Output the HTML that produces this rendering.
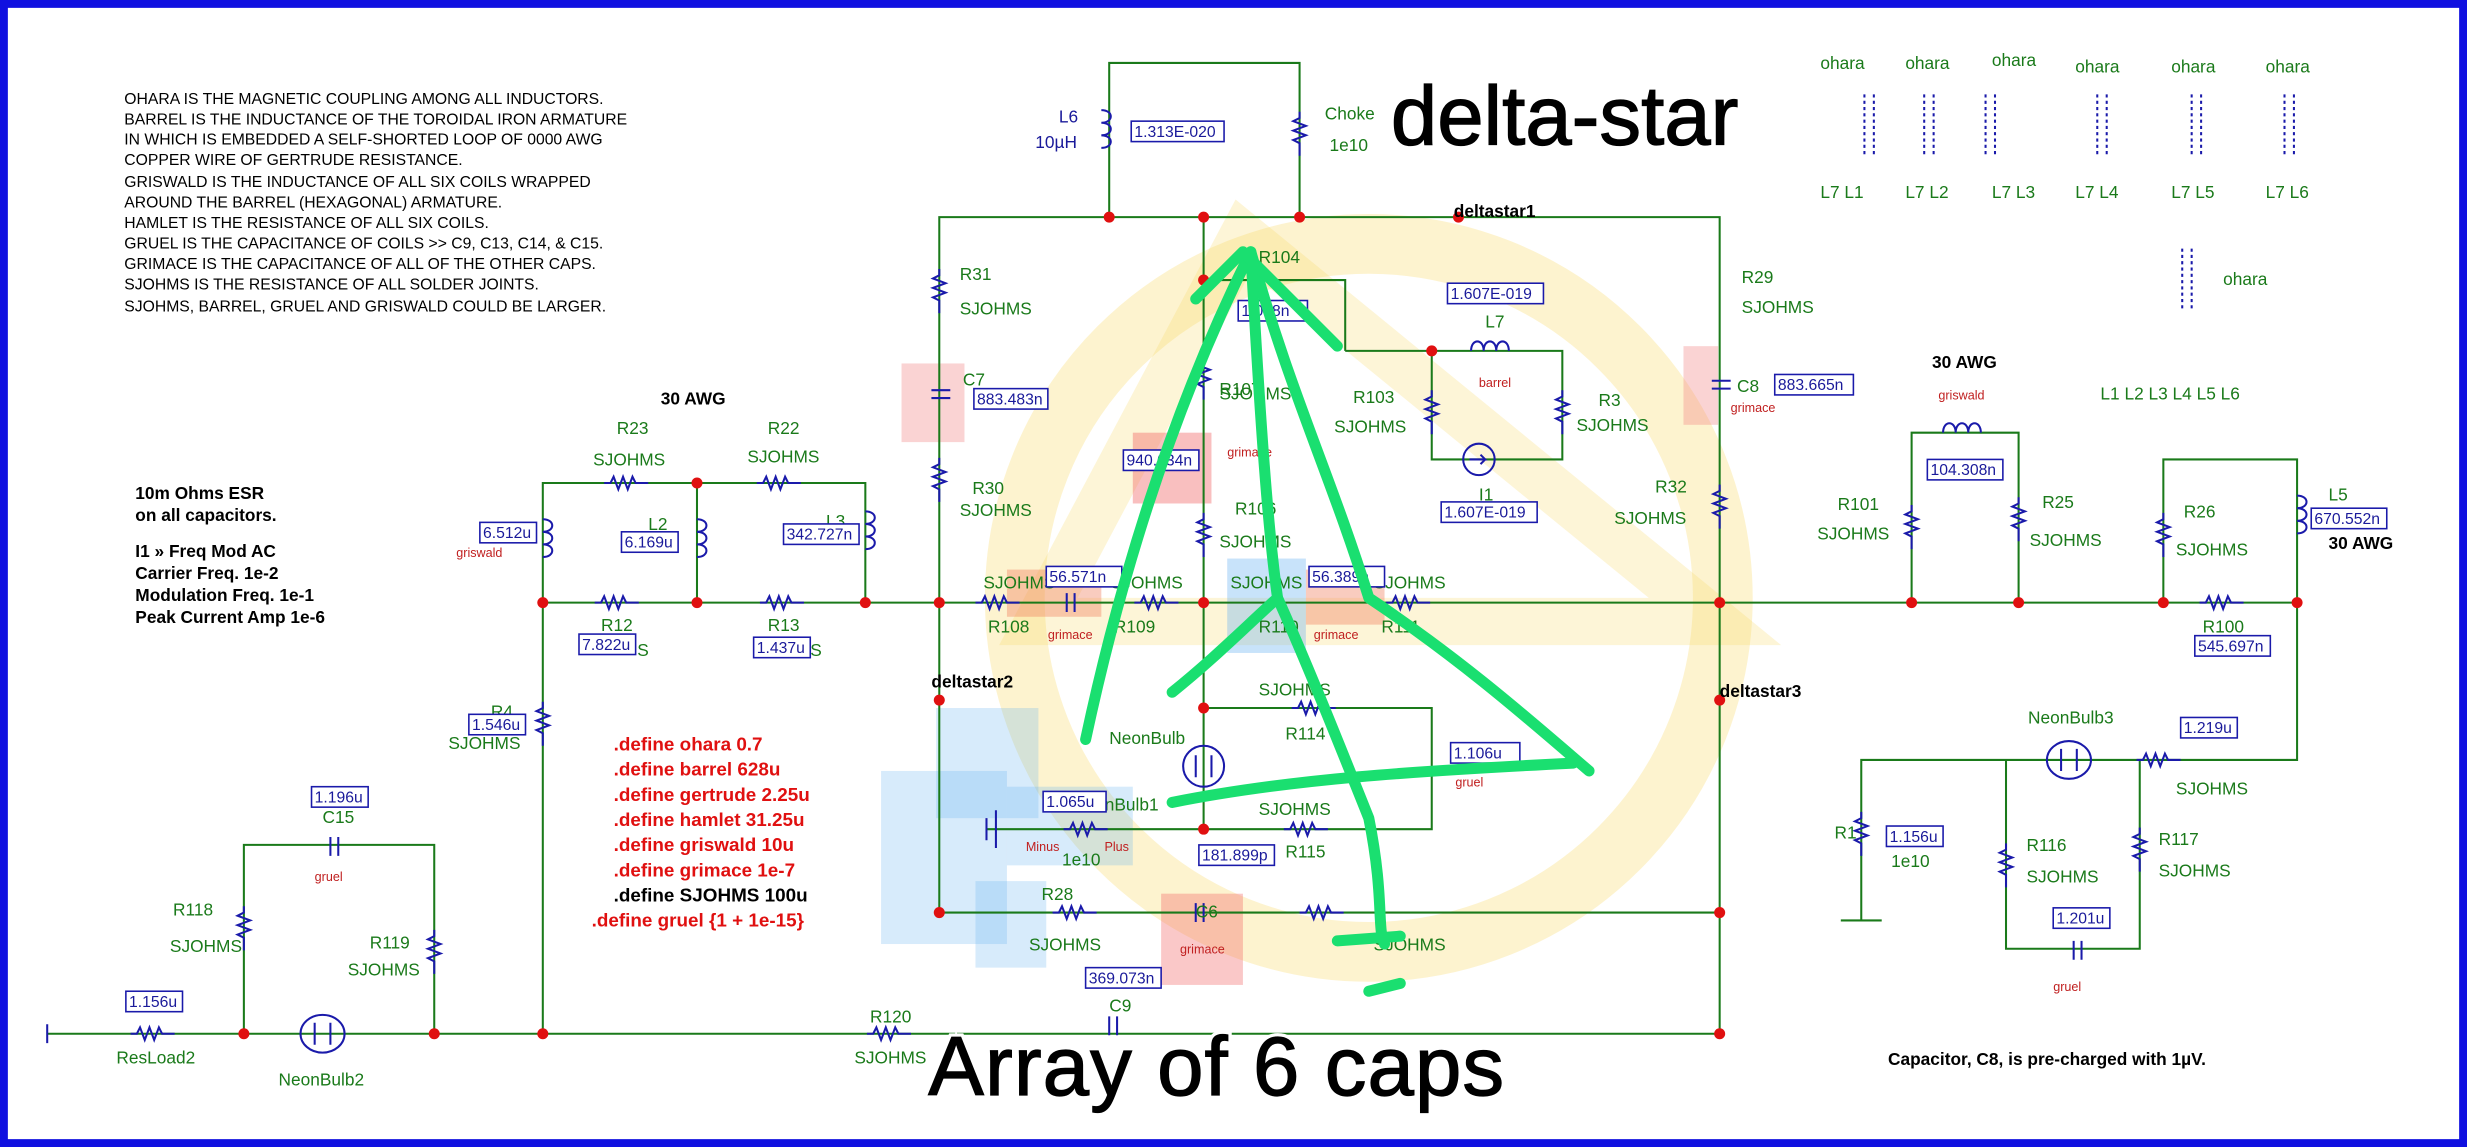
<!DOCTYPE html>
<html><head><meta charset="utf-8"><style>
html,body{margin:0;padding:0;background:#fff;}
svg{display:block;}
text{font-family:"Liberation Sans",sans-serif;}
.g{fill:#1a7a1a;font-size:11px;}
.b{fill:#1a1a9a;font-size:10px;}
.r{fill:#c02020;font-size:8px;}
.k{fill:#000;font-size:10px;}
.kb{fill:#000;font-size:11px;font-weight:bold;}
.rd{fill:#e01010;font-size:12px;font-weight:bold;}
.w{stroke:#1a7a1a;stroke-width:1.3;fill:none;}
.c{stroke:#1a1aaa;stroke-width:1.3;fill:none;}
.box{fill:#fff;stroke:#1a1aaa;stroke-width:1;}
.bigw{font-size:53px;fill:none;stroke:#fff;stroke-width:5;}
.big{font-size:53px;fill:#000;stroke:#000;stroke-width:0.8;}
</style></head><body>
<svg width="2467" height="1147" viewBox="0 0 1568 729" preserveAspectRatio="none" xmlns="http://www.w3.org/2000/svg">
<defs>
<path id="rh" d="M-14,0 h4 l2,-4 l3,8 l3,-8 l3,8 l3,-8 l2,4 h8" class="c"/>
<path id="rv" d="M0,-14 v4 l-4,2 l8,3 l-8,3 l8,3 l-8,3 l4,2 v8" class="c"/>
</defs>
<rect x="0" y="0" width="1568" height="729" fill="#fff"/>
<rect x="2.5" y="2.5" width="1563" height="724" fill="none" stroke="#1010e0" stroke-width="5"/>

<!-- highlights -->
<circle cx="870" cy="380" r="225" fill="none" stroke="#f8d860" stroke-opacity="0.3" stroke-width="38"/>
<polygon points="790,150 1090,395 660,395" fill="none" stroke="#f8d860" stroke-opacity="0.25" stroke-width="30"/>
<rect x="573" y="231" width="40" height="50" fill="#f08080" opacity="0.35"/>
<rect x="1070" y="220" width="22" height="50" fill="#f08080" opacity="0.35"/>
<rect x="720" y="275" width="50" height="45" fill="#f06060" opacity="0.4"/>
<rect x="640" y="362" width="60" height="30" fill="#f08060" opacity="0.4"/>
<rect x="830" y="362" width="50" height="35" fill="#f08060" opacity="0.4"/>
<rect x="738" y="568" width="52" height="58" fill="#f06060" opacity="0.35"/>
<rect x="560" y="490" width="80" height="110" fill="#60b0f0" opacity="0.25"/>
<rect x="595" y="450" width="65" height="70" fill="#60b0f0" opacity="0.25"/>
<rect x="620" y="560" width="45" height="55" fill="#60b0f0" opacity="0.25"/>
<rect x="640" y="500" width="80" height="50" fill="#60b0f0" opacity="0.25"/>
<rect x="780" y="355" width="50" height="60" fill="#60b0f0" opacity="0.35"/>

<!-- wires -->
<g class="w">
<path d="M705,138 V40 H826 V138"/>
<path d="M597,580 V138 H1093 V580 H597"/>
<path d="M345,383 H1460"/>
<path d="M345,383 V307 H550 V383 M443,307 V383"/>
<path d="M345,383 V657 M30,657 H1093 V580"/>
<path d="M155,657 V537 H276 V657"/>
<path d="M765,138 V530 M765,178 H855 V223 M910,223 H993 V292 H910 Z M910,223 H855"/>
<path d="M765,450 H910 V527 H627"/>
<path d="M1215,383 V275 H1283 V383 M1375,383 V292 H1460 V483 H1183 V585 M1170,585 H1196"/>
<path d="M1275,483 V603 H1360 V483"/>
</g>
<!-- components -->
<use href="#rv" x="597" y="185"/><use href="#rv" x="597" y="305"/>
<use href="#rv" x="826" y="85"/><use href="#rv" x="1093" y="322"/>
<use href="#rv" x="765" y="240"/><use href="#rv" x="765" y="340"/>
<use href="#rv" x="910" y="262"/><use href="#rv" x="993" y="262"/>
<use href="#rv" x="345" y="460"/><use href="#rv" x="155" y="590"/><use href="#rv" x="276" y="605"/>
<use href="#rv" x="1215" y="335"/><use href="#rv" x="1283" y="330"/><use href="#rv" x="1375" y="340"/>
<use href="#rv" x="1183" y="530"/><use href="#rv" x="1275" y="550"/><use href="#rv" x="1360" y="540"/>
<use href="#rh" x="398" y="307"/><use href="#rh" x="495" y="307"/>
<use href="#rh" x="392" y="383"/><use href="#rh" x="497" y="383"/>
<use href="#rh" x="634" y="383"/><use href="#rh" x="735" y="383"/><use href="#rh" x="895" y="383"/>
<use href="#rh" x="1412" y="383"/><use href="#rh" x="835" y="450"/><use href="#rh" x="830" y="527"/>
<use href="#rh" x="690" y="527"/><use href="#rh" x="683" y="580"/><use href="#rh" x="840" y="580"/>
<use href="#rh" x="565" y="657"/><use href="#rh" x="97" y="657"/><use href="#rh" x="1372" y="483"/>
<g class="c">
<path d="M700,70 c8,0 8,8 0,8 c8,0 8,8 0,8 c8,0 8,8 0,8 M345,330 c8,0 8,8 0,8 c8,0 8,8 0,8 c8,0 8,8 0,8 M443,330 c8,0 8,8 0,8 c8,0 8,8 0,8 c8,0 8,8 0,8 M550,325 c8,0 8,8 0,8 c8,0 8,8 0,8 c8,0 8,8 0,8 M1460,315 c8,0 8,8 0,8 c8,0 8,8 0,8 c8,0 8,8 0,8"/>
<path d="M935,223 c0,-8 8,-8 8,0 c0,-8 8,-8 8,0 c0,-8 8,-8 8,0 M1235,275 c0,-8 8,-8 8,0 c0,-8 8,-8 8,0 c0,-8 8,-8 8,0"/>
<path d="M592,248 h12 M592,253 h12 M1088,242 h12 M1088,247 h12 M678,377 v12 M683,377 v12 M705,646 v12 M710,646 v12 M760,574 v12 M765,574 v12 M210,532 v12 M215,532 v12 M1318,598 v12 M1323,598 v12"/>
<circle cx="940" cy="292" r="10"/><path d="M934,292 h10 l-3,-3 M944,292 l-3,3"/>
<circle cx="765" cy="487" r="13"/><path d="M760,480 v14 M770,480 v14"/>
<ellipse cx="205" cy="657" rx="14" ry="12"/><path d="M200,650 v14 M210,650 v14"/>
<ellipse cx="1315" cy="483" rx="14" ry="12"/><path d="M1310,476 v14 M1320,476 v14"/>
<path d="M627,520 v14 M633,515 v24 M30,651 v12"/>
</g>
<!-- ohara coupling -->
<g class="c" stroke-dasharray="2,2">
<path d="M1185,60 v40 M1191,60 v40 M1223,60 v40 M1229,60 v40 M1262,60 v40 M1268,60 v40 M1333,60 v40 M1339,60 v40 M1393,60 v40 M1399,60 v40 M1452,60 v40 M1458,60 v40 M1387,158 v40 M1393,158 v40"/>
</g>
<!-- dots -->
<g fill="#e01010">
<circle cx="705" cy="138" r="3.5"/><circle cx="765" cy="138" r="3.5"/><circle cx="826" cy="138" r="3.5"/><circle cx="927" cy="138" r="3.5"/>
<circle cx="765" cy="178" r="3.5"/><circle cx="910" cy="223" r="3.5"/>
<circle cx="345" cy="383" r="3.5"/><circle cx="443" cy="383" r="3.5"/><circle cx="550" cy="383" r="3.5"/><circle cx="443" cy="307" r="3.5"/>
<circle cx="597" cy="383" r="3.5"/><circle cx="765" cy="383" r="3.5"/><circle cx="1093" cy="383" r="3.5"/>
<circle cx="1215" cy="383" r="3.5"/><circle cx="1283" cy="383" r="3.5"/><circle cx="1375" cy="383" r="3.5"/><circle cx="1460" cy="383" r="3.5"/>
<circle cx="597" cy="445" r="3.5"/><circle cx="1093" cy="445" r="3.5"/><circle cx="765" cy="527" r="3.5"/><circle cx="765" cy="450" r="3.5"/>
<circle cx="597" cy="580" r="3.5"/><circle cx="1093" cy="580" r="3.5"/>
<circle cx="155" cy="657" r="3.5"/><circle cx="276" cy="657" r="3.5"/><circle cx="345" cy="657" r="3.5"/><circle cx="1093" cy="657" r="3.5"/>
</g>
<!-- notes -->
<g class="k">
<text x="79" y="66">OHARA IS THE MAGNETIC COUPLING AMONG ALL INDUCTORS.</text>
<text x="79" y="79">BARREL IS THE INDUCTANCE OF THE TOROIDAL IRON ARMATURE</text>
<text x="79" y="92">IN WHICH IS EMBEDDED A SELF-SHORTED LOOP OF 0000 AWG</text>
<text x="79" y="105">COPPER WIRE OF GERTRUDE RESISTANCE.</text>
<text x="79" y="119">GRISWALD IS THE INDUCTANCE OF ALL SIX COILS WRAPPED</text>
<text x="79" y="132">AROUND THE BARREL (HEXAGONAL) ARMATURE.</text>
<text x="79" y="145">HAMLET IS THE RESISTANCE OF ALL SIX COILS.</text>
<text x="79" y="158">GRUEL IS THE CAPACITANCE OF COILS &gt;&gt; C9, C13, C14, &amp; C15.</text>
<text x="79" y="171">GRIMACE IS THE CAPACITANCE OF ALL OF THE OTHER CAPS.</text>
<text x="79" y="184">SJOHMS IS THE RESISTANCE OF ALL SOLDER JOINTS.</text>
<text x="79" y="198">SJOHMS, BARREL, GRUEL AND GRISWALD COULD BE LARGER.</text>
</g>
<g class="kb">
<text x="86" y="317">10m Ohms ESR</text><text x="86" y="331">on all capacitors.</text>
<text x="86" y="354">I1 » Freq Mod AC</text><text x="86" y="368">Carrier Freq. 1e-2</text>
<text x="86" y="382">Modulation Freq. 1e-1</text><text x="86" y="396">Peak Current Amp 1e-6</text>
<text x="420" y="257">30 AWG</text><text x="1228" y="234">30 AWG</text><text x="1480" y="349">30 AWG</text>
<text x="592" y="437">deltastar2</text><text x="924" y="138">deltastar1</text><text x="1093" y="443">deltastar3</text>
<text x="1200" y="677">Capacitor, C8, is pre-charged with 1µV.</text>
</g>
<g class="rd">
<text x="390" y="477">.define ohara 0.7</text><text x="390" y="493">.define barrel 628u</text>
<text x="390" y="509">.define gertrude 2.25u</text><text x="390" y="525">.define hamlet 31.25u</text>
<text x="390" y="541">.define griswald 10u</text><text x="390" y="557">.define grimace 1e-7</text>
<text x="390" y="573" fill="#000">.define SJOHMS 100u</text><text x="376" y="589">.define gruel {1 + 1e-15}</text>
</g>
<!-- labels -->
<g class="g">
<text x="610" y="178">R31</text><text x="610" y="200">SJOHMS</text>
<text x="612" y="245">C7</text>
<text x="618" y="314">R30</text><text x="610" y="328">SJOHMS</text>
<text x="392" y="276">R23</text><text x="377" y="296">SJOHMS</text>
<text x="488" y="276">R22</text><text x="475" y="294">SJOHMS</text>
<text x="412" y="337">L2</text><text x="525" y="335">L3</text>
<text x="382" y="401">R12</text><text x="488" y="401">R13</text><text x="405" y="417">S</text><text x="515" y="417">S</text>
<text x="312" y="456">R4</text><text x="285" y="476">SJOHMS</text>
<text x="110" y="582">R118</text><text x="108" y="605">SJOHMS</text>
<text x="235" y="603">R119</text><text x="221" y="620">SJOHMS</text>
<text x="205" y="523">C15</text>
<text x="74" y="676">ResLoad2</text><text x="177" y="690">NeonBulb2</text>
<text x="553" y="650">R120</text><text x="543" y="676">SJOHMS</text>
<text x="705" y="643">C9</text>
<text x="662" y="572">R28</text><text x="654" y="604">SJOHMS</text>
<text x="760" y="583">C6</text><text x="873" y="604">SJOHMS</text>
<text x="625" y="374">SJOHMS</text><text x="628" y="402">R108</text>
<text x="706" y="374">SJOHMS</text><text x="708" y="402">R109</text>
<text x="782" y="374">SJOHMS</text><text x="800" y="402">R110</text>
<text x="873" y="374">SJOHMS</text><text x="878" y="402">R111</text>
<text x="800" y="442">SJOHMS</text><text x="817" y="470">R114</text>
<text x="800" y="518">SJOHMS</text><text x="817" y="545">R115</text>
<text x="705" y="473">NeonBulb</text>
<text x="682" y="515">NeonBulb1</text><text x="675" y="550">1e10</text>
<text x="775" y="251">R107</text><text x="775" y="254">SJOHMS</text>
<text x="785" y="327">R106</text><text x="775" y="348">SJOHMS</text>
<text x="800" y="167">R104</text>
<text x="860" y="256">R103</text><text x="848" y="275">SJOHMS</text>
<text x="944" y="208">L7</text><text x="940" y="318">I1</text>
<text x="1016" y="258">R3</text><text x="1002" y="274">SJOHMS</text>
<text x="1107" y="180">R29</text><text x="1107" y="199">SJOHMS</text>
<text x="1104" y="249">C8</text>
<text x="1052" y="313">R32</text><text x="1026" y="333">SJOHMS</text>
<text x="1168" y="324">R101</text><text x="1155" y="343">SJOHMS</text>
<text x="1298" y="323">R25</text><text x="1290" y="347">SJOHMS</text>
<text x="1388" y="329">R26</text><text x="1383" y="353">SJOHMS</text>
<text x="1480" y="318">L5</text><text x="1400" y="402">R100</text>
<text x="1289" y="460">NeonBulb3</text>
<text x="1383" y="505">SJOHMS</text>
<text x="1166" y="533">R1</text><text x="1202" y="551">1e10</text>
<text x="1288" y="541">R116</text><text x="1288" y="561">SJOHMS</text>
<text x="1372" y="537">R117</text><text x="1372" y="557">SJOHMS</text>
<text x="842" y="76">Choke</text><text x="845" y="96">1e10</text>
<text x="1157" y="44">ohara</text><text x="1211" y="44">ohara</text><text x="1266" y="42">ohara</text><text x="1319" y="46">ohara</text><text x="1380" y="46">ohara</text><text x="1440" y="46">ohara</text>
<text x="1413" y="181">ohara</text>
<text x="1157" y="126">L7 L1</text><text x="1211" y="126">L7 L2</text><text x="1266" y="126">L7 L3</text><text x="1319" y="126">L7 L4</text><text x="1380" y="126">L7 L5</text><text x="1440" y="126">L7 L6</text>
<text x="1335" y="254">L1 L2 L3 L4 L5 L6</text>
</g>
<g class="b" style="font-size:11px"><text x="673" y="78">L6</text><text x="658" y="94">10µH</text></g>
<g class="r">
<text x="290" y="354">griswald</text><text x="1232" y="254">griswald</text><text x="940" y="246">barrel</text>
<text x="200" y="560">gruel</text><text x="925" y="500">gruel</text><text x="1305" y="630">gruel</text>
<text x="666" y="406">grimace</text><text x="835" y="406">grimace</text><text x="750" y="606">grimace</text><text x="1100" y="262">grimace</text>
<text x="780" y="290">grimace</text>
<text x="652" y="541">Minus</text><text x="702" y="541">Plus</text>
</g>
<!-- value boxes -->
<g class="b">
<rect class="box" x="719" y="77" width="59" height="13"/><text x="721" y="87">1.313E-020</text>
<rect class="box" x="619" y="247" width="47" height="13"/><text x="621" y="257">883.483n</text>
<rect class="box" x="1128" y="238" width="50" height="13"/><text x="1130" y="248">883.665n</text>
<rect class="box" x="305" y="332" width="36" height="13"/><text x="307" y="342">6.512u</text>
<rect class="box" x="395" y="338" width="36" height="13"/><text x="397" y="348">6.169u</text>
<rect class="box" x="498" y="333" width="48" height="13"/><text x="500" y="343">342.727n</text>
<rect class="box" x="368" y="403" width="36" height="13"/><text x="370" y="413">7.822u</text>
<rect class="box" x="479" y="405" width="36" height="13"/><text x="481" y="415">1.437u</text>
<rect class="box" x="298" y="454" width="36" height="13"/><text x="300" y="464">1.546u</text>
<rect class="box" x="198" y="500" width="36" height="13"/><text x="200" y="510">1.196u</text>
<rect class="box" x="80" y="630" width="36" height="13"/><text x="82" y="640">1.156u</text>
<rect class="box" x="690" y="615" width="48" height="13"/><text x="692" y="625">369.073n</text>
<rect class="box" x="665" y="360" width="48" height="13"/><text x="667" y="370">56.571n</text>
<rect class="box" x="832" y="360" width="48" height="13"/><text x="834" y="370">56.389n</text>
<rect class="box" x="714" y="286" width="48" height="13"/><text x="716" y="296">940.034n</text>
<rect class="box" x="787" y="191" width="44" height="13"/><text x="789" y="201">1.038n</text>
<rect class="box" x="920" y="180" width="61" height="13"/><text x="922" y="190">1.607E-019</text>
<rect class="box" x="916" y="319" width="61" height="13"/><text x="918" y="329">1.607E-019</text>
<rect class="box" x="1225" y="292" width="48" height="13"/><text x="1227" y="302">104.308n</text>
<rect class="box" x="1469" y="323" width="48" height="13"/><text x="1471" y="333">670.552n</text>
<rect class="box" x="1395" y="404" width="48" height="13"/><text x="1397" y="414">545.697n</text>
<rect class="box" x="1386" y="456" width="36" height="13"/><text x="1388" y="466">1.219u</text>
<rect class="box" x="1199" y="525" width="36" height="13"/><text x="1201" y="535">1.156u</text>
<rect class="box" x="1305" y="577" width="36" height="13"/><text x="1307" y="587">1.201u</text>
<rect class="box" x="922" y="472" width="44" height="13"/><text x="924" y="482">1.106u</text>
<rect class="box" x="663" y="503" width="40" height="13"/><text x="665" y="513">1.065u</text>
<rect class="box" x="762" y="537" width="48" height="13"/><text x="764" y="547">181.899p</text>
</g>
<!-- green hand drawing -->
<g stroke="#1adf70" stroke-width="7" fill="none" stroke-linecap="round" stroke-linejoin="round">
<path d="M690,470 C720,330 760,230 795,160 C820,250 845,300 870,380 C930,420 975,460 1010,490"/>
<path d="M795,160 C800,250 805,330 812,380 C790,400 770,420 745,440"/>
<path d="M812,380 C830,420 850,470 870,520 C880,570 875,590 880,600"/>
<path d="M745,510 C820,495 900,490 1000,485"/>
<path d="M760,190 L790,160 L850,220 M850,598 L890,595 M870,630 L890,625"/>
</g>
<!-- big labels -->
<text class="bigw" x="884" y="92">delta-star</text>
<text class="big" x="884" y="92">delta-star</text>
<text class="bigw" x="590" y="696" textLength="366">Array of 6 caps</text>
<text class="big" x="590" y="696" textLength="366">Array of 6 caps</text>
</svg>
</body></html>
